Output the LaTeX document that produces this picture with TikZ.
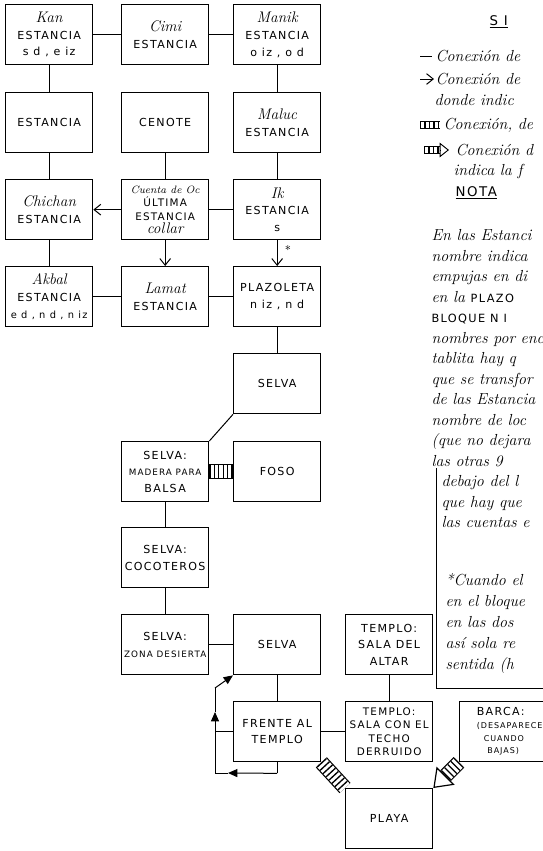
\documentclass[tikz,border=0pt]{standalone}
\usepackage{fontspec}
\usetikzlibrary{arrows.meta,calc}

\newfontfamily\letra{DejaVu Sans}[LetterSpace=12]
\newcommand{\dia}[1]{{\normalfont\itshape\fontsize{11.5}{12.5}\selectfont #1}}
\newcommand{\chica}[1]{{\fontsize{6.6}{9}\selectfont #1}}

\tikzset{every picture/.style={line width=0.75pt}}
\tikzset{
  sala/.style={draw, line width=1pt, anchor=north west, inner sep=0.75pt,
    minimum width=65.25pt, minimum height=45pt, align=center,
    font=\letra\fontsize{8.3}{12.5}\selectfont},
  nota/.style={anchor=west, inner sep=0.75pt, align=left,
    font=\normalfont\itshape\fontsize{12}{15.4}\selectfont},
  escalera/.style={line width=#1, dash pattern=on 1pt off 2.3pt,
    preaction={draw, solid, line width=0.9pt, double=white, double distance=#1}},
  escalera/.default=9.5pt,
  flecha/.style={-{Straight Barb[length=5pt,width=8pt]}},
  vuelta/.style={-{Triangle[length=7pt,width=6pt]}},
}

\begin{document}
\begin{tikzpicture}[x=0.75pt,y=0.75pt,yscale=-1,xscale=1]
\useasboundingbox (0,0) rectangle (543,851);

% Rooms
\node[sala] (kan) at (5,4) {\dia{Kan}\\ESTANCIA\\s d , e iz};
\node[sala] (cimi) at (121,4) {\dia{Cimi}\\ESTANCIA};
\node[sala] (manik) at (233,4) {\dia{Manik}\\ESTANCIA\\o iz , o d};
\node[sala] (estancia) at (5,92) {ESTANCIA};
\node[sala] (cenote) at (121,92) {CENOTE};
\node[sala] (maluc) at (233,92) {\dia{Maluc}\\ESTANCIA};
\node[sala] (chichan) at (5,179) {\dia{Chichan}\\ESTANCIA};
\node[sala, font=\letra\fontsize{7.8}{10}\selectfont] (cuenta) at (121,179) {{\normalfont\itshape\fontsize{8}{9}\selectfont Cuenta de Oc}\\ÚLTIMA\\ESTANCIA\\\dia{collar}};
\node[sala] (ik) at (233,179) {\dia{Ik}\\ESTANCIA\\s};
\node[sala] (akbal) at (5,266) {\dia{Akbal}\\ESTANCIA\\{\fontsize{7.4}{9}\selectfont e d , n d , n iz}};
\node[sala] (lamat) at (121,266) {\dia{Lamat}\\ESTANCIA};
\node[sala] (plazoleta) at (233,266) {PLAZOLETA\\n iz , n d};
\node[sala] (selvaA) at (233,353) {SELVA};
\node[sala] (madera) at (121,441) {SELVA:\\\chica{MADERA PARA}\\BALSA};
\node[sala] (foso) at (233,441) {FOSO};
\node[sala] (cocoteros) at (121,527) {SELVA:\\COCOTEROS};
\node[sala] (desierta) at (121,614) {SELVA:\\\chica{ZONA DESIERTA}};
\node[sala] (selvaB) at (233,614) {SELVA};
\node[sala] (altar) at (345,614) {TEMPLO:\\SALA DEL\\ALTAR};
\node[sala] (frente) at (233,701) {FRENTE AL\\TEMPLO};
\node[sala, font=\letra\fontsize{7.8}{10.2}\selectfont] (techo) at (345,701) {TEMPLO:\\SALA CON EL\\TECHO\\DERRUIDO};
\node[sala, minimum width=75pt, align=left, font=\letra\fontsize{8.3}{9.5}\selectfont] (barca) at (459,701) {BARCA:\\{\fontsize{6}{8}\selectfont(DESAPARECE}\\{\fontsize{6}{7.5}\selectfont\ \ CUANDO}\\{\fontsize{6}{7.5}\selectfont\ \ \ BAJAS)}};
\node[sala] (playa) at (345,788) {PLAYA};

% Connections
\draw (kan) -- (cimi);
\draw (cimi) -- (manik);
\draw (kan) -- (estancia);
\draw (manik) -- (maluc);
\draw (estancia) -- (chichan);
\draw (cenote) -- (cuenta);
\draw (maluc) -- (ik);
\draw[flecha] (cuenta) -- (chichan);
\draw (ik) -- (cuenta);
\draw[flecha] (cuenta) -- (lamat);
\draw[flecha] (ik) -- (plazoleta);
\node[font=\small] (asterisco) at (288,250) {*};
\draw (chichan) -- (akbal);
\draw (akbal) -- (lamat);
\draw (lamat) -- (plazoleta);
\draw (plazoleta) -- (selvaA);
\draw (selvaA.south west) -- (madera.north east);
\draw[escalera] (madera) -- (foso);
\draw (madera) -- (cocoteros);
\draw (cocoteros) -- (desierta);
\draw (desierta) -- (selvaB);
\draw (selvaB) -- (frente);
\draw (altar) -- (techo);
\draw (frente) -- (techo);
\draw[escalera] (frente.south east) -- (playa.north west);
\coordinate (punta) at ($(playa.north east)!13pt!(barca.south west)$);
\draw[escalera] (barca.south west) -- (punta);
\draw[-{Triangle[open,length=13pt,width=19pt]}, line width=0.9pt] (punta) -- (playa.north east);

% Loop round the temple front
\coordinate (b1) at ($(frente.south)+(0,11)$);
\coordinate (b2) at (215,773);
\coordinate (b3) at (215,688);
\coordinate (m1) at (228,773);
\coordinate (m2) at (215,712);
\draw (frente.west) -- (frente.west -| b2);
\draw (frente.south) -- (b1);
\draw[vuelta] (b1) -- (m1);
\draw (m1) -- (b2);
\draw[vuelta] (b2) -- (m2);
\draw (m2) -- (b3);
\draw[vuelta] (b3) -- (selvaB.south west);

% Legend
\node[anchor=west, inner sep=0.75pt, font=\letra\fontsize{10}{11}\selectfont] (simbolos) at (488,22) {\underline{S I}};
\draw (420,56) -- (432,56);
\node[nota] (linea) at (434,56) {Conexión de};
\draw[flecha] (420,79) -- (434,79);
\node[nota] (direccion) at (434,79) {Conexión de};
\node[nota] (donde) at (433,100) {donde indic};
\draw[escalera=4.5pt] (420,125) -- (440,125);
\node[nota] (escala) at (442,125) {Conexión, de};
\coordinate (e1) at (424,150);
\coordinate (e2) at (440,150);
\draw[escalera=4.5pt] (e1) -- (e2);
\draw[-{Triangle[open,length=7pt,width=11pt]}, line width=0.7pt] (e2) -- (449,150);
\node[nota] (escalaflecha) at (454,150) {Conexión d};
\node[nota] (indica) at (452,171) {indica la f};
\node[anchor=west, inner sep=0.75pt, font=\letra\fontsize{10}{11}\selectfont] (nota) at (454,193) {\underline{NOTA}};
\node[nota, anchor=north west] (parrafo) at (430,228) {En las Estanci\\nombre indica\\empujas en di\\en la {\letra\upshape\fontsize{8.5}{10}\selectfont PLAZO}\\{\letra\upshape\fontsize{8.5}{10}\selectfont BLOQUE N I}\\nombres por enc\\tablita hay q\\que se transfor\\de las Estancia\\nombre de loc\\(que no dejara\\las otras 9};
\node[nota, anchor=north west] (debajo) at (440,474) {debajo del l\\que hay que\\las cuentas e};
\node[nota, anchor=north west, font=\normalfont\itshape\fontsize{12}{15.8}\selectfont] (cuando) at (444,572) {*Cuando el\\en el bloque\\en las dos\\así sola re\\sentida (h};
\draw (436,468) -- (436,688) -- (545,688);

\end{tikzpicture}
\end{document}
